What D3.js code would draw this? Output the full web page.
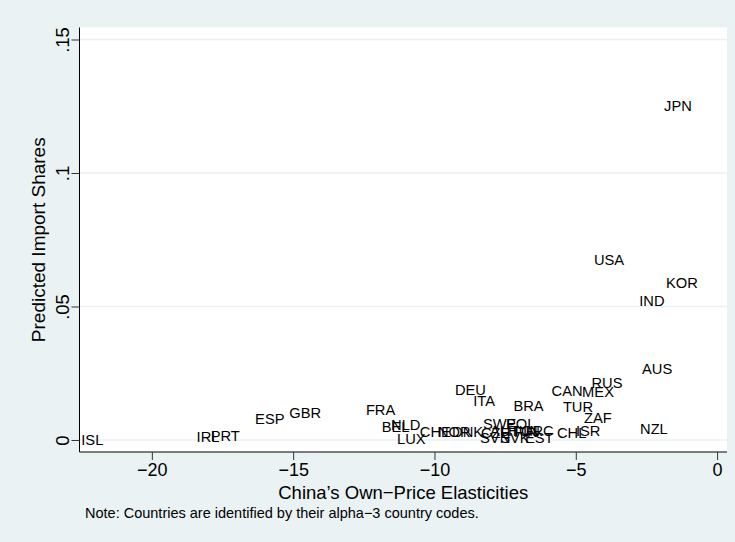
<!DOCTYPE html>
<html>
<head>
<meta charset="utf-8">
<script src="https://cdn.jsdelivr.net/npm/d3@7"></script>
<style>
  html, body { margin: 0; padding: 0; background: #EAF2F3; }
  svg { display: block; }
  text { font-family: "Liberation Sans", Arial, Helvetica, sans-serif; }
</style>
</head>
<body>
<svg id="chart" width="735" height="542"></svg>
<script>
// Country codes (alpha-3) with China's own-price elasticity and predicted import share
const countries = ["ISL","IRL","PRT","ESP","GBR","FRA","BEL","NLD","LUX","CHE",
  "NOR","DNK","DEU","ITA","SVN","CZE","SWE","AUT","SVK","POL",
  "HUN","BRA","FIN","GRC","EST","CAN","CHL","TUR","ISR","MEX",
  "ZAF","RUS","USA","IND","NZL","AUS","JPN","KOR"];
const elasticity = [-22.55,-18.47,-17.97,-16.40,-15.19,-12.48,-11.92,-11.59,-11.38,-10.57,
  -9.93,-9.43,-9.33,-8.68,-8.44,-8.41,-8.34,-8.09,-7.73,-7.52,
  -7.45,-7.26,-7.24,-6.99,-6.85,-5.91,-5.72,-5.51,-5.05,-4.83,
  -4.76,-4.50,-4.41,-2.81,-2.78,-2.71,-1.93,-1.86];
const importShare = [0.0000,0.0012,0.0016,0.0079,0.0101,0.0113,0.0050,0.0056,0.0006,0.0030,
  0.0030,0.0030,0.0189,0.0148,0.0008,0.0026,0.0060,0.0034,0.0008,0.0060,
  0.0034,0.0129,0.0030,0.0036,0.0008,0.0186,0.0026,0.0126,0.0034,0.0182,
  0.0085,0.0216,0.0676,0.0522,0.0041,0.0266,0.1253,0.0589];
const xTicks = [-20,-15,-10,-5,0];
const yTicks = [0,0.05,0.1,0.15];
const yTickLabels = ["0",".05",".1",".15"];

const svg = d3.select("#chart");
const W = 735, H = 542;
const plot = {left: 79.5, right: 727, top: 27.5, bottom: 452};

const x = d3.scaleLinear().domain([-22.56, 0.35]).range([plot.left, plot.right]);
const y = d3.scaleLinear().domain([-0.0045, 0.1545]).range([plot.bottom, plot.top]);

// outer region
svg.append("rect").attr("width", W).attr("height", H).attr("fill", "#EAF2F3");
// plot region
svg.append("rect")
  .attr("x", plot.left).attr("y", plot.top)
  .attr("width", plot.right - plot.left).attr("height", plot.bottom - plot.top)
  .attr("fill", "#ffffff");

// horizontal grid
svg.append("g").selectAll("line").data(yTicks).join("line")
  .attr("x1", plot.left).attr("x2", plot.right)
  .attr("y1", d => y(d)).attr("y2", d => y(d))
  .attr("stroke", "#EAF2F3").attr("stroke-width", 1.5);

// y axis
const yAxis = d3.axisLeft(y).tickValues(yTicks)
  .tickFormat((d, i) => yTickLabels[i]).tickSize(8).tickPadding(9);
const gy = svg.append("g").attr("transform", `translate(${plot.left},0)`).call(yAxis);
gy.select(".domain").attr("d", `M0,${plot.top}V${plot.bottom}`).attr("stroke", "#000");
gy.selectAll(".tick line").attr("stroke", "#333");
gy.selectAll(".tick text")
  .attr("font-size", 18.5).attr("fill", "#000")
  .attr("text-anchor", "middle")
  .attr("x", null).attr("dy", null)
  .attr("transform", "translate(-11,0) rotate(-90)")
  .attr("y", 0);

// x axis
const xAxis = d3.axisBottom(x).tickValues(xTicks)
  .tickFormat(d => d < 0 ? "\u2212" + Math.abs(d) : String(d)).tickSize(8).tickPadding(3);
const gx = svg.append("g").attr("transform", `translate(0,${plot.bottom})`).call(xAxis);
gx.select(".domain").attr("d", `M${plot.left},0H${plot.right}`).attr("stroke", "#000");
gx.selectAll(".tick line").attr("stroke", "#333");
gx.selectAll(".tick text").attr("font-size", 18).attr("fill", "#000");

// axis titles
svg.append("text")
  .attr("transform", `translate(45,${(plot.top + plot.bottom) / 2}) rotate(-90)`)
  .attr("text-anchor", "middle").attr("font-size", 19).attr("fill", "#000")
  .text("Predicted Import Shares");
svg.append("text")
  .attr("x", (plot.left + plot.right) / 2).attr("y", 499)
  .attr("text-anchor", "middle").attr("font-size", 18.5).attr("fill", "#000")
  .text("China\u2019s Own\u2212Price Elasticities");

// note
svg.append("text")
  .attr("x", 85).attr("y", 518)
  .attr("font-size", 14.5).attr("fill", "#000")
  .text("Note: Countries are identified by their alpha\u22123 country codes.");

// country labels placed to the right of each point
const pts = countries.map((c, i) => ({code: c, ex: elasticity[i], sh: importShare[i]}));
svg.append("g").selectAll("text").data(pts).join("text")
  .attr("x", d => x(d.ex) + 1.5)
  .attr("y", d => y(d.sh))
  .attr("dy", "0.36em")
  .attr("font-size", 14.7).attr("fill", "#000")
  .text(d => d.code);
</script>
</body>
</html>
